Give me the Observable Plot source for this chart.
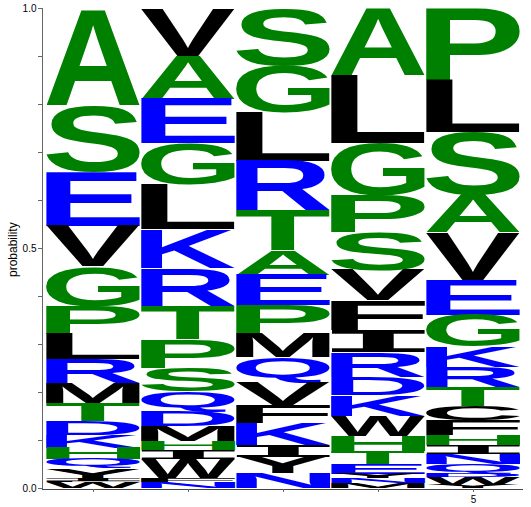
<!DOCTYPE html>
<html lang="en">
<head>
<meta charset="UTF-8" />
<title>Sequence logo</title>
<style>
  body { margin: 0; background: #fff; }
  #logo svg { display: block; }
</style>
</head>
<body>
<div id="logo"></div>

<script src="https://cdn.jsdelivr.net/npm/d3@7"></script>
<script src="https://cdn.jsdelivr.net/npm/@observablehq/plot@0.6"></script>

<script>
  // positions along the sequence
  const positions = [1, 2, 3, 4, 5];

  // letters of each column, read from the top of the stack down
  const letters1 = ["A","S","E","V","G","P","L","R","M","T","D","K","H","Q","Y","I","F","W"];
  const probs1   = [0.200,0.1375,0.1125,0.085,0.083,0.058,0.052,0.050,0.042,0.0375,0.029,0.027,0.023,0.019,0.022,0.004,0.003,0.012];

  const letters2 = ["V","A","E","G","L","K","R","T","P","S","Q","D","M","H","I","W","F","N"];
  const probs2   = [0.098,0.090,0.092,0.085,0.094,0.081,0.079,0.069,0.060,0.048,0.042,0.031,0.031,0.019,0.019,0.040,0.008,0.012];

  const letters3 = ["S","G","L","R","T","A","E","P","M","Q","V","F","K","I","Y","N"];
  const probs3   = [0.119,0.098,0.100,0.104,0.083,0.052,0.0625,0.058,0.050,0.052,0.048,0.0375,0.046,0.025,0.033,0.031];

  const letters4 = ["A","L","G","P","S","V","F","I","R","D","K","W","H","T","E","Y","N","M"];
  const probs4   = [0.140,0.140,0.110,0.077,0.079,0.0625,0.0625,0.046,0.052,0.0375,0.042,0.042,0.031,0.027,0.021,0.010,0.010,0.010];

  const letters5 = ["P","L","S","A","V","E","G","K","R","T","C","F","H","I","N","Q","D","W","Y"];
  const probs5   = [0.150,0.108,0.131,0.079,0.098,0.073,0.067,0.042,0.042,0.040,0.029,0.031,0.021,0.019,0.021,0.019,0.008,0.015,0.007];

  const yTicks = [0, 0.1, 0.2, 0.3, 0.4, 0.5, 0.6, 0.7, 0.8, 0.9, 1.0];
  const yLabels = [0, 0.5, 1.0];

  // hydrophobicity colouring
  const blueSet = "RKDENQ";
  const greenSet = "SGHTAP";
  const colorOf = (c) => blueSet.includes(c) ? "blue" : greenSet.includes(c) ? "green" : "black";

  const columns = [[letters1, probs1], [letters2, probs2], [letters3, probs3], [letters4, probs4], [letters5, probs5]];
  const data = columns.flatMap(([ls, ps], i) =>
    ls.map((letter, j) => ({pos: positions[i], letter, p: ps[j]}))
  );

  // glyph ink boxes, so each letter can be stretched to fill its bar
  const ctx = document.createElement("canvas").getContext("2d");
  const fontFor = (c) => c === "I" ? "DejaVu Sans Mono" : "Liberation Sans";
  const boxes = {};
  function glyphBox(c) {
    if (!boxes[c]) {
      ctx.font = `bold 200px '${fontFor(c)}'`;
      ctx.textAlign = "left";
      ctx.textBaseline = "alphabetic";
      const m = ctx.measureText(c);
      boxes[c] = {l: m.actualBoundingBoxLeft, r: m.actualBoundingBoxRight,
                  a: m.actualBoundingBoxAscent, d: m.actualBoundingBoxDescent};
    }
    return boxes[c];
  }

  // swap every bar rect for its letter, scaled into the rect
  function drawLetters(index, scales, values, dimensions, context, next) {
    const g = next(index, scales, values, dimensions, context);
    const rects = Array.from(g.querySelectorAll("rect"));
    rects.forEach((rect, k) => {
      const d = data[index[k]];
      const x = +rect.getAttribute("x"), y = +rect.getAttribute("y");
      const w = +rect.getAttribute("width"), h = +rect.getAttribute("height");
      const b = glyphBox(d.letter);
      const t = document.createElementNS("http://www.w3.org/2000/svg", "text");
      t.textContent = d.letter;
      t.setAttribute("font-family", fontFor(d.letter));
      t.setAttribute("font-weight", "bold");
      t.setAttribute("font-size", 200);
      t.setAttribute("text-anchor", "start");
      t.setAttribute("fill", colorOf(d.letter));
      t.setAttribute("transform",
        `translate(${x},${y}) scale(${w / (b.l + b.r)},${h / (b.a + b.d)}) translate(${b.l},${b.a})`);
      rect.replaceWith(t);
    });
    return g;
  }

  const plot = Plot.plot({
    width: 531,
    height: 507,
    marginLeft: 42,
    marginRight: 9,
    marginTop: 8,
    marginBottom: 18,
    insetLeft: 2,
    insetBottom: 1,
    style: {fontFamily: "'Liberation Sans', Arial, sans-serif", fontSize: "10px", background: "#fff"},
    x: {type: "band", domain: positions, paddingInner: 0.012, paddingOuter: 0},
    y: {domain: [0, 1]},
    color: {type: "identity"},
    marks: [
      Plot.barY(data, Plot.stackY({
        x: "pos",
        y: "p",
        reverse: true,
        fill: (d) => colorOf(d.letter),
        render: drawLetters
      })),
      Plot.frame({anchor: "left", stroke: "#666"}),
      Plot.frame({anchor: "bottom", stroke: "#444"}),
      Plot.axisY({
        ticks: yTicks,
        tickFormat: (d) => yLabels.includes(d) ? d.toFixed(1) : "",
        tickSize: 4,
        tickPadding: 2,
        stroke: "#666",
        label: null
      }),
      Plot.axisX({
        tickSize: 3,
        tickPadding: 3,
        tickFormat: (d) => d === 5 ? "5" : "",
        stroke: "#666",
        label: null
      }),
      Plot.text(["probability"], {
        frameAnchor: "left",
        dx: -29,
        dy: 28,
        rotate: -90,
        fontSize: 12
      })
    ]
  });

  document.querySelector("#logo").append(plot);
</script>
</body>
</html>
